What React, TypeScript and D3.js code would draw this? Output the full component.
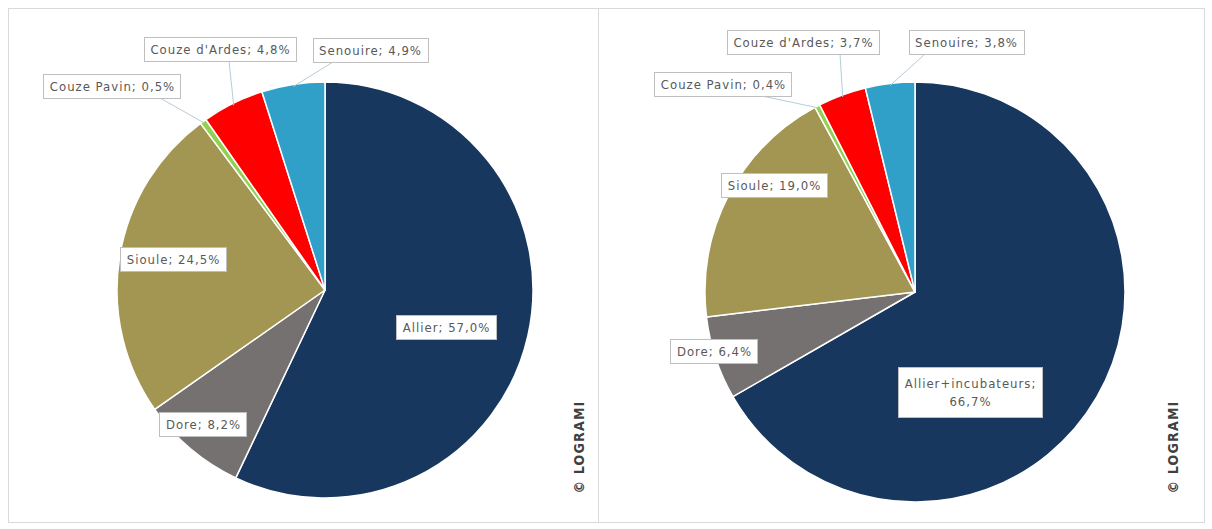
import React, { useEffect, useRef } from 'react';
import * as d3 from 'd3';

// données
const categories = ['Allier', 'Dore', 'Sioule', 'Couze Pavin', "Couze d'Ardes", 'Senouire'];
const categoriesRight = ['Allier+incubateurs', 'Dore', 'Sioule', 'Couze Pavin', "Couze d'Ardes", 'Senouire'];
const valuesLeft = [57.0, 8.2, 24.5, 0.5, 4.8, 4.9];
const valuesRight = [66.7, 6.4, 19.0, 0.4, 3.7, 3.8];
const colors = ['#17375e', '#767171', '#a39653', '#92d050', '#ff0000', '#31a0c9'];

// positions des étiquettes (centre du cadre) et départ des lignes de rappel
const labelPosLeft = [
  { x: 446, y: 327, lx: null },
  { x: 203, y: 424, lx: null },
  { x: 173, y: 259, lx: null },
  { x: 112, y: 86, lx: 160 },
  { x: 220, y: 49, lx: 229 },
  { x: 370, y: 50, lx: 333 },
];
const labelPosRight = [
  { x: 970, y: 392, lx: null },
  { x: 714, y: 351, lx: null },
  { x: 774, y: 185, lx: null },
  { x: 723, y: 84, lx: 762 },
  { x: 803, y: 42, lx: 840 },
  { x: 966, y: 42, lx: 925 },
];

const fmt = (v: number) => v.toFixed(1).replace('.', ',') + '%';

const App: React.FC = () => {
  const svgRef = useRef<SVGSVGElement | null>(null);

  useEffect(() => {
    if (!svgRef.current) return;
    const svg = d3.select(svgRef.current);
    svg.selectAll('*').remove();

    // cadres
    svg.append('rect').attr('x', 8.5).attr('y', 8.5).attr('width', 590).attr('height', 514)
      .attr('fill', 'none').attr('stroke', '#d9d9d9');
    svg.append('rect').attr('x', 598.5).attr('y', 8.5).attr('width', 606).attr('height', 514)
      .attr('fill', 'none').attr('stroke', '#d9d9d9');

    const drawPie = (
      names: string[], values: number[], cx: number, cy: number, r: number,
      labels: { x: number; y: number; lx: number | null }[], copyX: number,
    ) => {
      const g = svg.append('g').attr('transform', `translate(${cx},${cy})`);
      const pie = d3.pie<number>().sort(null).value(d => d);
      const arcs = pie(values);
      const arc = d3.arc<d3.PieArcDatum<number>>().innerRadius(0).outerRadius(r);

      g.selectAll('path').data(arcs).join('path')
        .attr('d', arc)
        .attr('fill', (_, i) => colors[i])
        .attr('stroke', '#ffffff')
        .attr('stroke-width', 1.5)
        .attr('stroke-linejoin', 'round');

      // lignes de rappel
      arcs.forEach((a, i) => {
        const lab = labels[i];
        if (lab.lx == null) return;
        const mid = (a.startAngle + a.endAngle) / 2;
        const tx = cx + Math.sin(mid) * (r - 2);
        const ty = cy - Math.cos(mid) * (r - 2);
        svg.append('line')
          .attr('x1', lab.lx).attr('y1', lab.y + 12)
          .attr('x2', tx).attr('y2', ty)
          .attr('stroke', '#b7ccd6').attr('stroke-width', 1);
      });

      // étiquettes
      names.forEach((name, i) => {
        const lab = labels[i];
        const lg = svg.append('g');
        const rect = lg.append('rect');
        const multi = name.length > 15 && i === 0;
        const lines = multi ? [name + ';', fmt(values[i])] : [`${name}; ${fmt(values[i])}`];
        const text = lg.append('text')
          .attr('text-anchor', 'middle')
          .attr('font-family', '"DejaVu Sans Condensed", "Liberation Sans Narrow", sans-serif')
          .attr('font-size', 13)
          .attr('letter-spacing', 1)
          .attr('fill', '#595959');
        lines.forEach((t, k) => {
          text.append('tspan')
            .attr('x', lab.x + 0.5)
            .attr('y', lab.y + 5 + (k - (lines.length - 1) / 2) * 18)
            .text(t);
        });
        const node = text.node() as SVGTextElement;
        const bb = node.getBBox();
        const padX = 6;
        const h = lines.length === 1 ? 24 : 50;
        rect.attr('x', Math.round(lab.x - bb.width / 2 - padX) + 0.5)
          .attr('y', Math.round(lab.y - h / 2) + 0.5)
          .attr('width', Math.round(bb.width + padX * 2))
          .attr('height', h)
          .attr('fill', '#ffffff')
          .attr('stroke', '#bfbfbf')
          .attr('stroke-width', 1);
      });

      // copyright
      svg.append('text')
        .attr('transform', `translate(${copyX},447) rotate(-90)`)
        .attr('text-anchor', 'middle')
        .attr('font-family', '"DejaVu Sans Condensed", sans-serif')
        .attr('font-weight', 'bold')
        .attr('font-size', 14)
        .attr('letter-spacing', 1.2)
        .attr('fill', '#404040')
        .text('© LOGRAMI');
    };

    drawPie(categories, valuesLeft, 325, 290, 208, labelPosLeft, 584);
    drawPie(categoriesRight, valuesRight, 915, 292, 210, labelPosRight, 1178);
  }, []);

  return (
    <svg
      ref={svgRef}
      width={1212}
      height={529}
      viewBox="0 0 1212 529"
      style={{ position: 'absolute', left: 0, top: 0, background: '#ffffff' }}
    />
  );
};

export default App;
